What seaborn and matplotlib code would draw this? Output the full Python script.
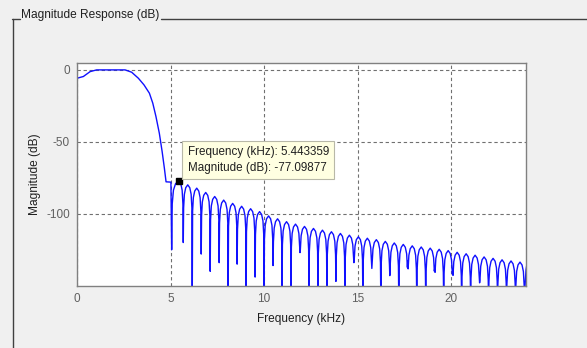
import matplotlib
matplotlib.use("Agg")
import matplotlib.pyplot as plt
from matplotlib.lines import Line2D
import pandas as pd
import seaborn as sns

# --- values ---
# passband + transition band
band_khz = [0.0, 0.34, 0.70, 1.05, 1.80, 2.57, 2.92, 3.28, 3.58, 3.87, 4.05, 4.22,
            4.40, 4.55, 4.67, 4.76, 5.02]
band_db = [-5.8, -4.6, -1.2, 0.0, 0.0, 0.0, -1.6, -5.8, -10.4, -16.2, -23.1, -32.4,
           -44.0, -56.7, -68.3, -77.8, -78.0]

# stopband side lobes: peak position and level
lobe_peak_khz = [5.44, 5.92, 6.40, 6.88, 7.36, 7.84, 8.32, 8.80, 9.28, 9.76,
                 10.24, 10.72, 11.20, 11.68, 12.16, 12.64, 13.12, 13.60, 14.08, 14.56,
                 15.04, 15.52, 16.00, 16.48, 16.96, 17.44, 17.92, 18.40, 18.88, 19.36,
                 19.84, 20.32, 20.80, 21.28, 21.76, 22.24, 22.72, 23.20, 23.68]
lobe_peak_db = [-77.1, -79.9, -82.2, -85.2, -88.0, -90.5, -92.8, -94.8, -96.5, -98.5,
                -101.5, -103.5, -105.5, -107.2, -108.8, -110.2, -111.4, -112.5, -113.7, -114.9,
                -116.0, -117.0, -118.0, -119.2, -120.3, -121.3, -122.3, -123.1, -123.9, -124.7,
                -125.6, -126.8, -127.8, -128.8, -130.0, -131.0, -132.0, -132.8, -133.6]

# nulls between the lobes (depth as drawn on screen, below -150 is clipped)
null_khz = [5.06, 5.68, 6.16, 6.64, 7.12, 7.60, 8.08, 8.56, 9.04, 9.52,
            10.00, 10.48, 10.96, 11.44, 11.92, 12.40, 12.88, 13.36, 13.84, 14.32,
            14.80, 15.28, 15.76, 16.24, 16.72, 17.20, 17.68, 18.16, 18.64, 19.12,
            19.60, 20.08, 20.56, 21.04, 21.52, 22.00, 22.48, 22.96, 23.44, 23.92]
null_db = [-125, -120, -160, -128, -140, -134, -160, -135, -160, -144,
           -160, -136, -160, -160, -127, -160, -160, -160, -147, -160,
           -134, -160, -138, -160, -143, -160, -133, -160, -160, -138,
           -160, -140, -160, -160, -148, -160, -160, -160, -160, -160]

# start of the next lobe at the right edge
tail_khz = [23.95, 24.0, 24.05]
tail_db = [-150, -139, -135]

# shape of one lobe flank as seen on screen (fraction null->peak, dB below peak)
flank_frac = [0.08, 0.25, 0.55]
flank_drop = [16, 6.5, 2]

tip_khz = 5.443359
tip_db = -77.09877

# --- assemble the response curve ---
freq, mag = list(band_khz), list(band_db)
for i, (pk, lvl) in enumerate(zip(lobe_peak_khz, lobe_peak_db)):
    a, b = null_khz[i], null_khz[i + 1]
    freq.append(a)
    mag.append(null_db[i])
    for fr, dr in zip(flank_frac, flank_drop):
        freq.append(a + fr * (pk - a))
        mag.append(lvl - dr)
    freq.append(pk)
    mag.append(lvl)
    for fr, dr in zip(reversed(flank_frac), reversed(flank_drop)):
        freq.append(b - fr * (b - pk))
        mag.append(lvl - dr)
freq.append(null_khz[-1])
mag.append(null_db[-1])
freq += tail_khz
mag += tail_db
df = pd.DataFrame({'freq': freq, 'mag': mag})

# --- plot ---
sns.set_theme(style="white")
plt.rcParams['font.family'] = ['Liberation Sans', 'DejaVu Sans']
plt.rcParams['lines.scale_dashes'] = False
plt.rcParams['axes.unicode_minus'] = False

W, H = 587, 348
fig = plt.figure(figsize=(W / 100, H / 100), dpi=100, facecolor='#f0f0f0')
ax = fig.add_axes([77 / W, 1 - 285.7 / H, (526 - 77) / W, (285.7 - 62.7) / H])
ax.set_facecolor('white')

sns.lineplot(data=df, x='freq', y='mag', sort=False, estimator=None,
             color='#1010ff', lw=1.0, ax=ax)
ax.plot([tip_khz], [tip_db], marker='s', ms=5, color='black', ls='none', zorder=5)

ax.annotate(f'Frequency (kHz): {tip_khz:.6f}\nMagnitude (dB): {tip_db:.5f}',
            xy=(tip_khz, tip_db), xytext=(8.7, 7), textcoords='offset pixels',
            ha='left', va='bottom', fontsize=8.4, color='#202020', linespacing=1.45,
            bbox=dict(boxstyle='square,pad=0.45', fc='#ffffe1', ec='#b8b8a8', lw=0.8),
            zorder=6)

ax.set_xlim(0, 24)
ax.set_ylim(-150, 5)
ax.set_xticks([0, 5, 10, 15, 20])
ax.set_yticks([0, -50, -100])
ax.grid(True, color='#707070', lw=0.8, ls=(0, (2.4, 1.95)))
ax.tick_params(length=0, pad=5, labelsize=8.5, labelcolor='#606060')
for s in ax.spines.values():
    s.set_color('#808080')
    s.set_linewidth(1)
ax.set_xlabel('Frequency (kHz)', fontsize=8.6, color='#202020', labelpad=6)
ax.set_ylabel('Magnitude (dB)', fontsize=8.6, color='#202020', labelpad=4)

# group box frame around the plot
fy = 1 - 19 / H
fig.add_artist(Line2D([12 / W, 20 / W], [fy, fy], color='#404040', lw=1))
fig.add_artist(Line2D([161 / W, 1], [fy, fy], color='#404040', lw=1))
fig.add_artist(Line2D([12.5 / W, 12.5 / W], [fy, 0], color='#404040', lw=1))
fig.text(21 / W, 1 - 15 / H, 'Magnitude Response (dB)', fontsize=8.6,
         color='#202020', va='center', ha='left')

fig.savefig('out.png', dpi=100, facecolor=fig.get_facecolor())
